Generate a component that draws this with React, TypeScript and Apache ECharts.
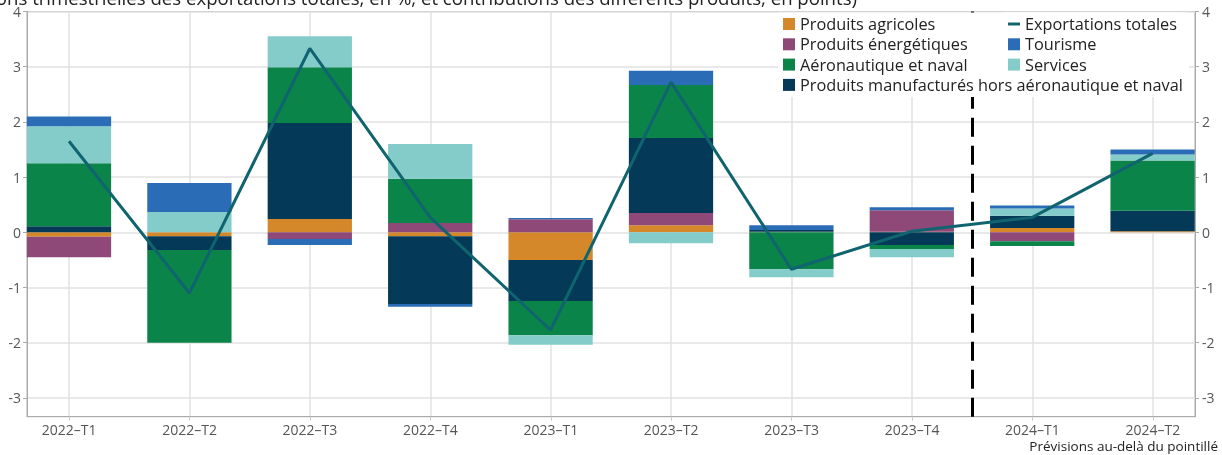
import React, { useEffect, useRef } from "react";
import * as echarts from "echarts";

const categories = [
  "2022–T1", "2022–T2", "2022–T3", "2022–T4",
  "2023–T1", "2023–T2", "2023–T3", "2023–T4",
  "2024–T1", "2024–T2",
];
const agricoles = [-0.08, -0.07, 0.24, -0.07, -0.5, 0.13, 0.01, 0.01, 0.08, 0.02];
const energetiques = [-0.37, 0, -0.12, 0.17, 0.235, 0.22, 0, 0.39, -0.16, 0];
const manufactures = [0.11, -0.25, 1.74, -1.23, -0.745, 1.36, 0.03, -0.23, 0.22, 0.37];
const aeronautique = [1.14, -1.68, 1.01, 0.8, -0.62, 0.96, -0.67, -0.07, -0.09, 0.91];
const services = [0.67, 0.37, 0.56, 0.63, -0.17, -0.2, -0.145, -0.15, 0.13, 0.11];
const tourisme = [0.18, 0.525, -0.11, -0.05, 0.025, 0.255, 0.09, 0.055, 0.055, 0.09];
const totales = [1.65, -1.1, 3.33, 0.27, -1.77, 2.72, -0.67, 0.02, 0.27, 1.43];
const yTicks = [-3, -2, -1, 0, 1, 2, 3, 4];
const xTicks = [0, 1, 2, 3, 4, 5, 6, 7, 8, 9];
const forecastBoundary = 7.5;

const FONT = "'Open Sans', 'Noto Sans', sans-serif";
const Y_MIN = -3.34;
const Y_MAX = 4;

export default function App() {
  const ref = useRef<HTMLDivElement>(null);
  useEffect(() => {
    if (!ref.current) return;
    const chart = echarts.init(ref.current, null, { renderer: "svg" });
    const bar = (name: string, data: number[], color: string) => ({
      name,
      type: "bar",
      stack: "total",
      xAxisIndex: 1,
      yAxisIndex: 2,
      barWidth: "70%",
      itemStyle: { color },
      data,
    });
    const legendCommon = {
      orient: "vertical",
      top: 12.5,
      padding: [3.5, 6, 4, 5],
      itemGap: 4.3,
      itemWidth: 12,
      itemHeight: 12,
      backgroundColor: "#fff",
      selectedMode: false,
      textStyle: { fontSize: 16.3, color: "#222", fontFamily: FONT },
    };
    chart.setOption({
      animation: false,
      textStyle: { fontFamily: FONT },
      grid: [
        { left: 27, right: 27, top: 11.5, bottom: 38.3, show: true, borderColor: "#aaa", borderWidth: 1 },
        { left: 8.8, right: 9.2, top: 11.5, bottom: 38.3 },
      ],
      xAxis: [
        {
          gridIndex: 0,
          type: "value",
          min: -0.35,
          max: 9.35,
          axisLine: { show: true, onZero: false, lineStyle: { color: "#aaa" } },
          axisTick: { show: true, customValues: xTicks, length: 4, lineStyle: { color: "#ccc" } },
          axisLabel: {
            customValues: xTicks,
            formatter: (v: number) => categories[Math.round(v)] ?? "",
            color: "#555",
            fontSize: 14,
            margin: 6,
          },
          splitLine: { show: true, lineStyle: { color: "#e2e2e2", width: 1.5 } },
        },
        { gridIndex: 1, type: "category", data: categories, show: false, axisLine: { onZero: false } },
      ],
      yAxis: [
        {
          gridIndex: 0,
          type: "value",
          position: "left",
          min: Y_MIN,
          max: Y_MAX,
          axisLine: { show: true, onZero: false, lineStyle: { color: "#aaa" } },
          axisTick: { show: true, customValues: yTicks, length: 4, lineStyle: { color: "#aaa" } },
          axisLabel: { customValues: yTicks, color: "#555", fontSize: 14, margin: 6 },
          splitLine: { show: true, lineStyle: { color: "#e2e2e2", width: 1.5 } },
        },
        {
          gridIndex: 0,
          type: "value",
          position: "right",
          min: Y_MIN,
          max: Y_MAX,
          axisLine: { show: true, onZero: false, lineStyle: { color: "#aaa" } },
          axisTick: { show: true, customValues: yTicks, length: 4, lineStyle: { color: "#aaa" } },
          axisLabel: { customValues: yTicks, color: "#555", fontSize: 14, margin: 7 },
          splitLine: { show: false },
        },
        { gridIndex: 1, type: "value", min: Y_MIN, max: Y_MAX, show: false, axisLine: { onZero: false }, splitLine: { show: false } },
      ],
      legend: [
        {
          ...legendCommon,
          data: [
            { name: "Produits agricoles", icon: "rect" },
            { name: "Produits énergétiques", icon: "rect" },
            { name: "Aéronautique et naval", icon: "rect" },
            { name: "Produits manufacturés hors aéronautique et naval", icon: "rect" },
          ],
          left: 778,
          z: 10,
        },
        {
          ...legendCommon,
          data: [
            { name: "Exportations totales", icon: "path://M0,0H12V3H0Z" },
            { name: "Tourisme", icon: "rect" },
            { name: "Services", icon: "rect" },
          ],
          left: 1003,
          z: 11,
        },
      ],
      graphic: [
        {
          type: "text",
          right: 1222 - 857,
          top: -12,
          style: {
            text: "(Variations trimestrielles des exportations totales, en %, et contributions des différents produits, en points)",
            fontSize: 18.6,
            fontFamily: FONT,
            fill: "#222",
          },
        },
        {
          type: "text",
          right: 4,
          top: 439,
          style: {
            text: "Prévisions au-delà du pointillé",
            fontSize: 13.5,
            fontFamily: FONT,
            fill: "#222",
          },
        },
      ],
      series: [
        bar("Produits agricoles", agricoles, "#D4882A"),
        bar("Produits énergétiques", energetiques, "#8E4978"),
        bar("Produits manufacturés hors aéronautique et naval", manufactures, "#043A58"),
        bar("Aéronautique et naval", aeronautique, "#0B844A"),
        bar("Services", services, "#84CCCA"),
        bar("Tourisme", tourisme, "#2A6CB6"),
        {
          name: "Exportations totales",
          type: "line",
          xAxisIndex: 1,
          yAxisIndex: 2,
          data: totales,
          symbol: "none",
          lineStyle: { color: "#10646F", width: 3 },
          itemStyle: { color: "#10646F" },
          z: 3,
        },
        {
          name: "forecast",
          type: "line",
          xAxisIndex: 0,
          yAxisIndex: 0,
          data: [],
          markLine: {
            silent: true,
            symbol: "none",
            label: { show: false },
            lineStyle: { color: "#000", width: 3, type: [19, 9] },
            data: [{ xAxis: forecastBoundary }],
          },
        },
      ],
    });
    return () => chart.dispose();
  }, []);
  return <div ref={ref} style={{ position: "fixed", left: 0, top: 0, width: 1222, height: 455 }} />;
}
